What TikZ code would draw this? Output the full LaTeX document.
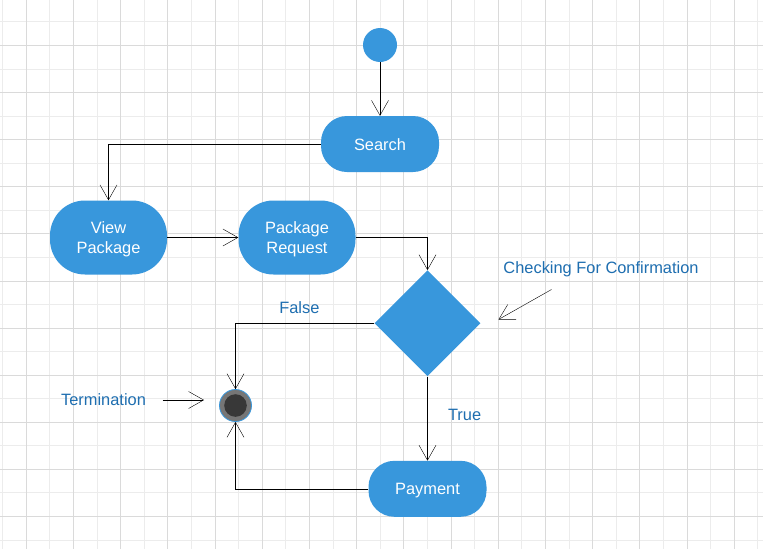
\documentclass[tikz,border=0pt]{standalone}
\usepackage{fontspec}
\setmainfont{Liberation Sans}
\usetikzlibrary{arrows.meta,positioning,calc,shapes.geometric}
\definecolor{actblue}{RGB}{56,151,220}
\definecolor{labblue}{RGB}{30,110,176}
\definecolor{gridlight}{RGB}{236,236,236}
\definecolor{griddark}{RGB}{218,218,218}
\definecolor{ringgray}{RGB}{118,118,118}
\definecolor{endfill}{RGB}{56,56,56}

\begin{document}
\begin{tikzpicture}[x=1pt,y=-1pt,>={Straight Barb[length=15pt,width=17pt]}, every node/.style={font=\fontsize{16.4}{20}\selectfont}]
\useasboundingbox (0,0) rectangle (763,549);
\fill[white] (0,0) rectangle (763,549);
% grid
\foreach \i in {0,2,...,32} \draw[gridlight,line width=1pt] ({2.7+23.6*\i},0) -- ({2.7+23.6*\i},549);
\foreach \i in {1,3,...,23} \draw[gridlight,line width=1pt] (0,{-1.6+23.55*\i}) -- (763,{-1.6+23.55*\i});
\foreach \i in {1,3,...,31} \draw[griddark,line width=1pt] ({2.7+23.6*\i},0) -- ({2.7+23.6*\i},549);
\foreach \i in {2,4,...,22} \draw[griddark,line width=1pt] (0,{-1.6+23.55*\i}) -- (763,{-1.6+23.55*\i});
% activities
\node[circle,fill=actblue,minimum size=34pt,inner sep=0pt] (start) at (380,45) {};
\node[fill=actblue,text=white,rounded corners=26pt,minimum width=118pt,minimum height=56pt] (search) at (380,144) {\raisebox{-1pt}[\height][\depth]{Search}};
\node[fill=actblue,text=white,rounded corners=35pt,minimum width=117pt,minimum height=74pt,align=center] (view) at (108.5,237.5) {\raisebox{-2pt}[\height][\depth]{View}\\\raisebox{-2pt}[\height][\depth]{Package}};
\node[fill=actblue,text=white,rounded corners=35pt,minimum width=117pt,minimum height=74pt,align=center] (request) at (297,237.5) {\raisebox{-2pt}[\height][\depth]{Package}\\\raisebox{-2pt}[\height][\depth]{Request}};
\node[diamond,fill=actblue,minimum width=106pt,minimum height=106pt,inner sep=0pt] (check) at (427.5,323.3) {};
\node[fill=actblue,text=white,rounded corners=26pt,minimum width=118pt,minimum height=56pt] (pay) at (427.5,488.8) {\raisebox{-2pt}[\height][\depth]{Payment}};
\node[circle,draw=actblue,line width=0.8pt,fill=ringgray,minimum size=32pt,inner sep=0pt,
  path picture={\fill[endfill] (path picture bounding box.center) circle (11.3pt);}] (end) at (235.5,405.5) {};
% flows
\draw[->] (start) -- (search);
\draw[->] (search.west) -| (view.north);
\draw[->] (view) -- (request);
\draw[->] (request.east) -| (check.north);
\draw[->] (check.west) -| (end.north) node[pos=0.27,above=6pt,text=labblue] {False};
\draw[->] (check) -- (pay) node[pos=0.46,right=17pt,text=labblue] {True};
\draw[->] (pay.west) -| (end.south);
% notes
\node[text=labblue] (chk) at (601,269) {Checking For Confirmation};
\coordinate (chktail) at (551.5,289.5);
\coordinate (chktip) at (498.5,319.5);
\draw[->] (chktail) -- (chktip);
\node[text=labblue] (term) at (103.5,399.5) {Termination};
\coordinate (termtail) at (162.5,400);
\coordinate (termtip) at (204,400);
\draw[->] (termtail) -- (termtip);
\end{tikzpicture}
\end{document}
